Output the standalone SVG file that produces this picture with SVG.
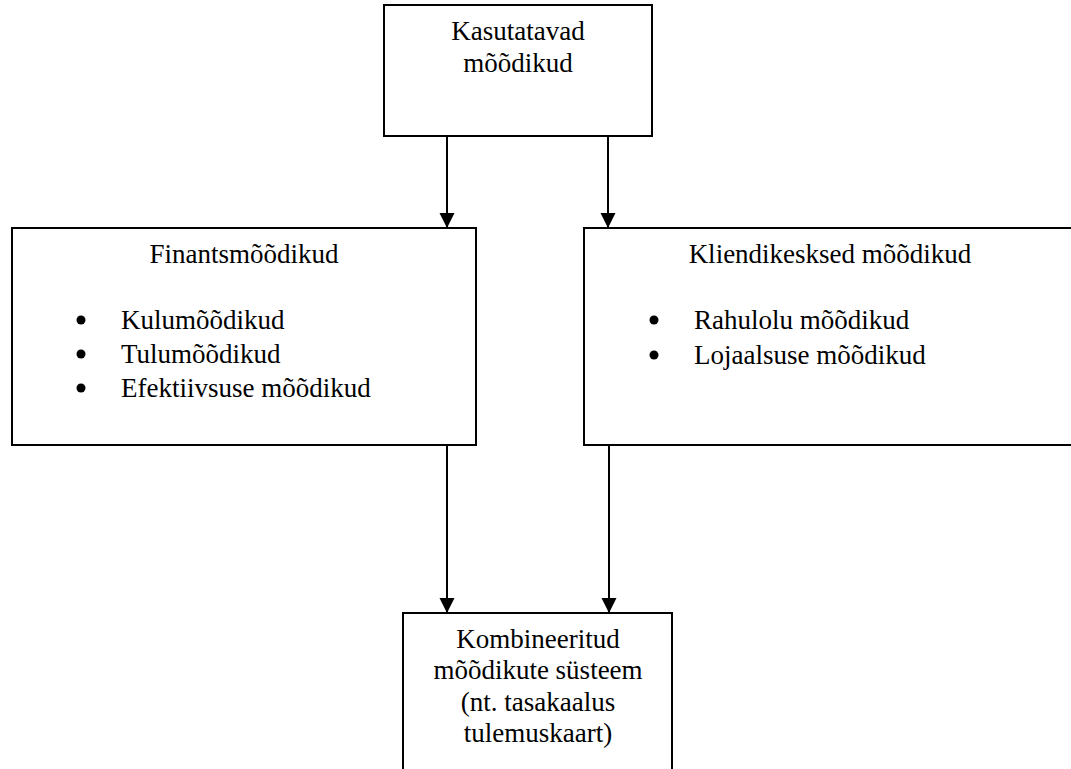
<svg xmlns="http://www.w3.org/2000/svg" width="1071" height="769" viewBox="0 0 1071 769">
<style>
.box{fill:#fff;stroke:#000;stroke-width:2}
.t{font-family:"Liberation Serif","Times New Roman",serif;font-size:27px;fill:#000}
.c{text-anchor:middle}
.ln{stroke:#000;stroke-width:2;fill:none}
.b{fill:#000}
</style>
<defs>
<marker id="ah" markerWidth="15" markerHeight="16" refX="15" refY="7.5" orient="auto" markerUnits="userSpaceOnUse">
<path d="M0,0 L15,7.5 L0,15 Z" fill="#000"/>
</marker>
</defs>
<rect width="1071" height="769" fill="#fff"/>
<g id="connectors">
<line class="ln" x1="447" y1="136" x2="447" y2="228" marker-end="url(#ah)"/>
<line class="ln" x1="608" y1="136" x2="608" y2="228" marker-end="url(#ah)"/>
<line class="ln" x1="447" y1="445" x2="447" y2="613" marker-end="url(#ah)"/>
<line class="ln" x1="609" y1="445" x2="609" y2="613" marker-end="url(#ah)"/>
</g>
<g id="node-top">
<rect class="box" x="384" y="5" width="268" height="131"/>
<text class="t c" x="518" y="40">Kasutatavad</text>
<text class="t c" x="518" y="72">mõõdikud</text>
</g>
<g id="node-fin">
<rect class="box" x="12" y="228" width="464" height="217"/>
<text class="t c" x="244" y="263">Finantsmõõdikud</text>
<circle class="b" cx="81" cy="320" r="4.5"/>
<text class="t" x="121" y="329">Kulumõõdikud</text>
<circle class="b" cx="81" cy="354" r="4.5"/>
<text class="t" x="121" y="363">Tulumõõdikud</text>
<circle class="b" cx="81" cy="388" r="4.5"/>
<text class="t" x="121" y="397">Efektiivsuse mõõdikud</text>
</g>
<g id="node-client">
<rect class="box" x="584" y="228" width="494" height="217"/>
<text class="t c" x="830" y="263">Kliendikesksed mõõdikud</text>
<circle class="b" cx="654" cy="320" r="4.5"/>
<text class="t" x="694" y="329">Rahulolu mõõdikud</text>
<circle class="b" cx="654" cy="355" r="4.5"/>
<text class="t" x="694" y="364">Lojaalsuse mõõdikud</text>
</g>
<g id="node-combined">
<rect class="box" x="403" y="613" width="269" height="170"/>
<text class="t c" x="538" y="648">Kombineeritud</text>
<text class="t c" x="538" y="679">mõõdikute süsteem</text>
<text class="t c" x="538" y="711">(nt. tasakaalus</text>
<text class="t c" x="538" y="742">tulemuskaart)</text>
</g>
</svg>
